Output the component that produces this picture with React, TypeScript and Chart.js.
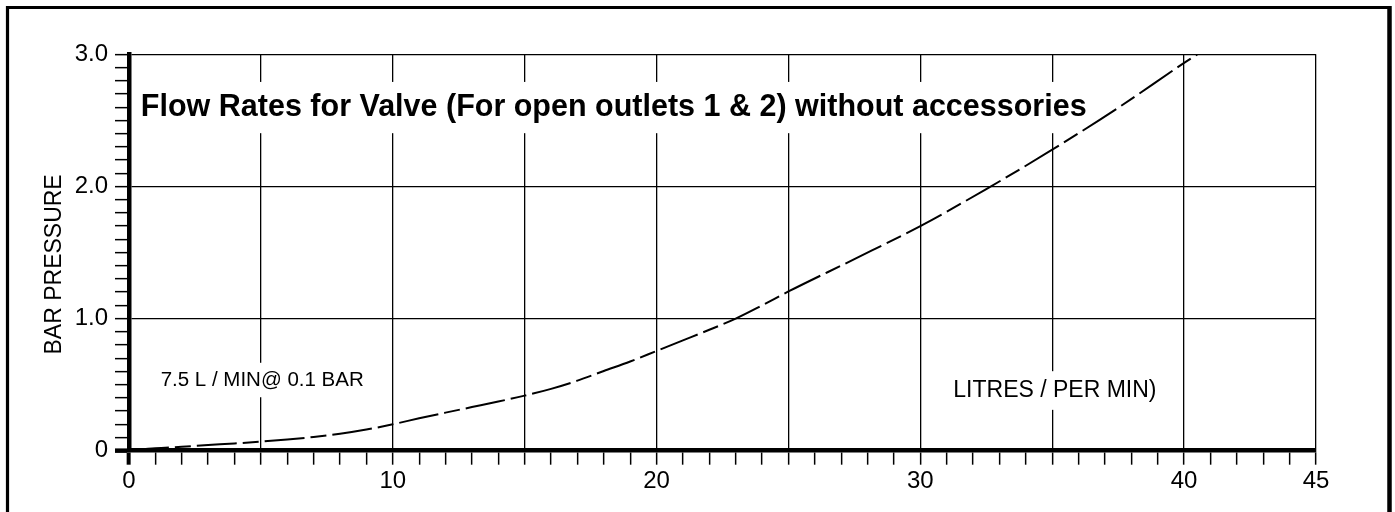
import React, { useEffect, useRef } from 'react';
import { Chart, registerables } from 'chart.js';

Chart.register(...registerables);

// ---- data ----
const flowLitresPerMin = [
  0, 1, 2, 3, 4, 5, 6, 7, 8, 9, 10, 11, 12, 13, 14, 15, 16, 17, 18, 19, 20, 21, 22, 23, 24, 25, 27.5, 30, 32.5, 35,
  37.5, 40, 40.5,
];
const pressureBar = [
  0, 0.018, 0.03, 0.043, 0.055, 0.069, 0.085, 0.104, 0.128, 0.16, 0.2, 0.245, 0.288, 0.33, 0.372, 0.417, 0.468,
  0.53, 0.603, 0.675, 0.755, 0.835, 0.915, 1.0, 1.1, 1.205, 1.45, 1.7, 1.98, 2.278, 2.595, 2.935, 3.0,
];
const xLabelledTicks = [0, 10, 20, 30, 40, 45];
const yLabelledTicks = [0, 1, 2, 3];

const chartTitle = 'Flow Rates for Valve (For open outlets 1 & 2) without accessories';
const yAxisTitle = 'BAR PRESSURE';
const noteLeft = '7.5 L / MIN@ 0.1 BAR';
const noteRight = 'LITRES / PER MIN)';

const FONT = "'Liberation Sans', Arial, Helvetica, sans-serif";

// annotation anchors (in data units)
const notes = [
  { text: chartTitle, x: 0.45, y: 2.53, size: 30.5, bold: true },
  { text: noteLeft, x: 1.2, y: 0.49, size: 20.5, bold: false },
  { text: noteRight, x: 31.25, y: 0.405, size: 23, bold: false },
];

const isNear = (v: number, list: number[]) => list.some((t) => Math.abs(v - t) < 1e-6);

const decorPlugin = {
  id: 'decor',
  beforeDatasetsDraw(chart: any) {
    const ctx = chart.ctx as CanvasRenderingContext2D;
    const xs = chart.scales.x;
    const ys = chart.scales.y;
    ctx.save();
    for (const n of notes) {
      ctx.font = `${n.bold ? 'bold ' : ''}${n.size}px ${FONT}`;
      const w = ctx.measureText(n.text).width;
      const px = xs.getPixelForValue(n.x);
      const py = ys.getPixelForValue(n.y);
      ctx.fillStyle = '#ffffff';
      ctx.fillRect(px - 6, py - n.size * 1.13, w + 12, n.size * 1.68);
      ctx.fillStyle = '#000000';
      ctx.textAlign = 'left';
      ctx.textBaseline = 'alphabetic';
      ctx.fillText(n.text, px, py);
    }
    ctx.restore();
  },
  afterDraw(chart: any) {
    const ctx = chart.ctx as CanvasRenderingContext2D;
    const ys = chart.scales.y;
    ctx.save();
    // outer frame
    ctx.strokeStyle = '#000';
    ctx.lineWidth = 3.2;
    ctx.beginPath();
    ctx.moveTo(7.5, 520);
    ctx.lineTo(7.5, 7.5);
    ctx.lineTo(1390, 7.5);
    ctx.stroke();
    ctx.lineWidth = 4.5;
    ctx.beginPath();
    ctx.moveTo(1389.5, 5.9);
    ctx.lineTo(1389.5, 520);
    ctx.stroke();
    // y axis title
    ctx.translate(54.5, ys.getPixelForValue(1.41));
    ctx.rotate(-Math.PI / 2);
    ctx.font = `23px ${FONT}`;
    ctx.fillStyle = '#000';
    ctx.textAlign = 'center';
    ctx.textBaseline = 'middle';
    ctx.fillText(yAxisTitle, 0, 0);
    ctx.restore();
  },
};

export default function App() {
  const ref = useRef<HTMLCanvasElement | null>(null);

  useEffect(() => {
    if (!ref.current) return;
    Chart.defaults.font.family = FONT;
    const chart = new Chart(ref.current, {
      type: 'line',
      data: {
        datasets: [
          {
            label: 'Pressure',
            data: flowLitresPerMin.map((x, i) => ({ x, y: pressureBar[i] })),
            borderColor: '#000',
            borderWidth: 2,
            borderDash: [40, 6, 16, 6],
            pointRadius: 0,
            fill: false,
            cubicInterpolationMode: 'monotone',
          },
        ],
      },
      options: {
        responsive: false,
        animation: false,
        devicePixelRatio: 1,
        layout: { padding: { top: 54.3, right: 79, bottom: 0, left: 0 } },
        plugins: { legend: { display: false }, tooltip: { enabled: false }, title: { display: false } },
        scales: {
          x: {
            type: 'linear',
            min: 0,
            max: 45,
            afterFit: (s: any) => {
              s.height = 61.3;
            },
            ticks: {
              stepSize: 1,
              autoSkip: false,
              maxRotation: 0,
              minRotation: 0,
              padding: 2,
              color: '#000',
              font: { size: 24 },
              callback: (v: any) => (isNear(Number(v), xLabelledTicks) ? String(Math.round(Number(v))) : ''),
            },
            grid: {
              display: true,
              drawOnChartArea: true,
              drawTicks: true,
              tickLength: 14,
              lineWidth: 1.3,
              color: (c: any) => (c.tick && Math.abs(c.tick.value % 5) < 1e-6 ? '#000' : 'rgba(0,0,0,0)'),
              tickColor: '#000',
              tickWidth: (c: any) => (c.tick && c.tick.value === 0 ? 4 : 1.5),
            },
            border: { display: true, color: '#000', width: 4.5 },
          },
          y: {
            type: 'linear',
            min: 0,
            max: 3,
            afterFit: (s: any) => {
              s.width = 129;
            },
            ticks: {
              stepSize: 0.1,
              autoSkip: false,
              padding: 7,
              color: '#000',
              font: { size: 24 },
              callback: (v: any) => {
                const n = Number(v);
                if (!isNear(n, yLabelledTicks)) return '';
                return Math.abs(n) < 1e-6 ? '0' : n.toFixed(1);
              },
            },
            grid: {
              display: true,
              drawOnChartArea: true,
              drawTicks: true,
              tickLength: 14,
              lineWidth: 1.3,
              color: (c: any) => (c.tick && isNear(c.tick.value, [1, 2, 3]) ? '#000' : 'rgba(0,0,0,0)'),
              tickColor: '#000',
              tickWidth: (c: any) => (c.tick && Math.abs(c.tick.value) < 1e-6 ? 4.5 : 1.5),
            },
            border: { display: true, color: '#000', width: 4.5 },
          },
        },
      },
      plugins: [decorPlugin],
    } as any);
    return () => chart.destroy();
  }, []);

  return (
    <div style={{ position: 'fixed', left: 0, top: 0, width: 1395, height: 512, background: '#fff' }}>
      <canvas ref={ref} width={1395} height={512} style={{ display: 'block' }} />
    </div>
  );
}
